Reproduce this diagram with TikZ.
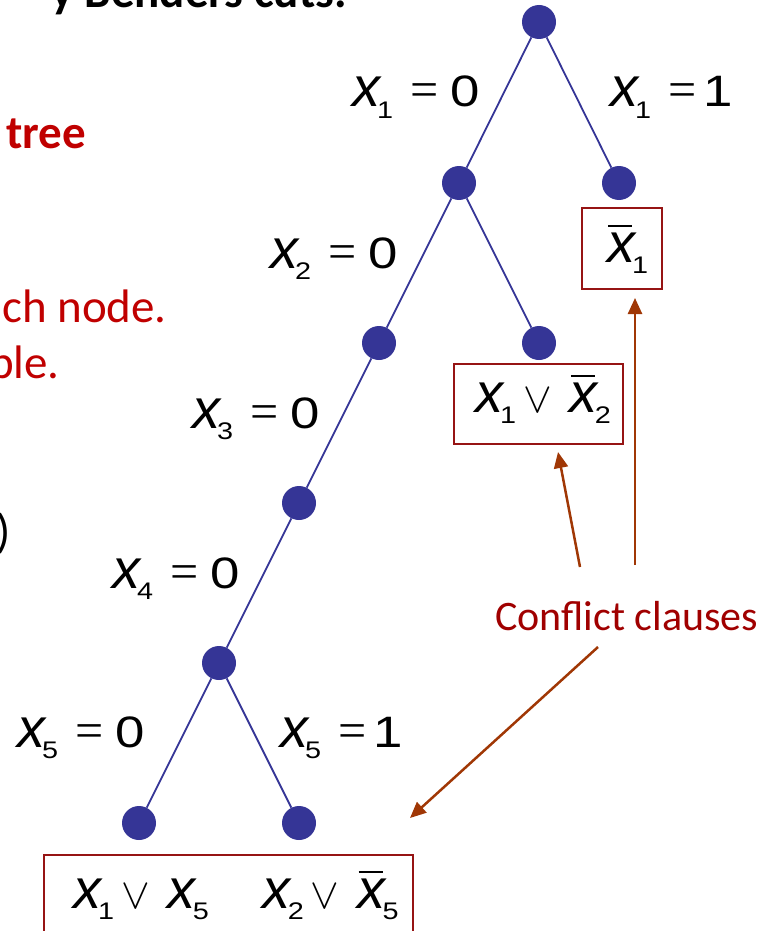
\documentclass[tikz,border=0pt]{standalone}
\usepackage{fontspec}
\setmainfont{Liberation Sans}
\newfontfamily\carlito{Carlito}
\newfontfamily\lserif{Liberation Serif}
\usepackage{graphicx}
\usetikzlibrary{arrows.meta}
\definecolor{nodeblue}{RGB}{53,53,150}
\definecolor{boxred}{RGB}{150,20,20}
\definecolor{arrowbrown}{RGB}{160,55,5}
\definecolor{ccred}{RGB}{160,0,0}
\definecolor{slidered}{RGB}{192,0,0}
\newcommand\XF{\fontsize{56}{56}\selectfont\itshape}
\newcommand\SB[1]{{\fontsize{24}{24}\selectfont\scalebox{1.2}[1]{#1}}}
\newcommand\VX[1]{{\XF x}\kern-3pt\raisebox{-11pt}{\SB{#1}}}
\newcommand\VXB[1]{\rlap{\kern1pt\rule[35pt]{24pt}{2pt}}\VX{#1}}
\newcommand\EQ{{\lserif\fontsize{50}{50}\selectfont=}}
\newcommand\DG[1]{{\fontsize{44}{44}\selectfont\scalebox{1.2}[1]{#1}}}
\newcommand\LAB[2]{\VX{#1}\hspace{17pt}\EQ\hspace{12pt}\DG{#2}}
\newcommand\LABI[1]{\VX{#1}\hspace{17pt}\EQ\hspace{7pt}\DG{1}}
\newcommand\VOR{\scalebox{4.3}{$\vee$}}
\newcommand\CLS[2]{\VX{#1}\hspace{7pt}\VOR\hspace{18pt}#2}
\begin{document}
\begin{tikzpicture}[x=1pt,y=-1pt,
  vtx/.style={circle,fill=nodeblue,minimum size=34pt,inner sep=0pt},
  edge/.style={draw=nodeblue,line width=1.8pt},
  lab/.style={anchor=base west,inner sep=0pt},
  cbox/.style={draw=boxred,line width=2pt,inner sep=0pt},
  carrow/.style={draw=arrowbrown,line width=2.5pt,-{Triangle[length=16pt,width=14pt]}},
  slide/.style={inner sep=0pt,anchor=base east,font=\carlito\fontsize{47}{47}\selectfont}]
\useasboundingbox (0,0) rectangle (772,931);
% slide text fragments
\node[slide,font=\carlito\bfseries\fontsize{47}{47}\selectfont] (s0) at (347,8) {y Benders cuts.};
\node[slide,text=slidered,font=\carlito\bfseries\fontsize{47}{47}\selectfont] (s1) at (86,148) {tree};
\node[slide,text=slidered] (s2) at (167,322) {ch node.};
\node[slide,text=slidered] (s3) at (60,378) {ble.};
\node[slide] (s4) at (11,547) {)};
% tree nodes
\node[vtx] (n0) at (539,22) {};
\node[vtx] (n1) at (459,183) {};
\node[vtx] (n1r) at (619,183) {};
\node[vtx] (n2) at (379,343) {};
\node[vtx] (n2r) at (539,343) {};
\node[vtx] (n3) at (299,503) {};
\node[vtx] (n4) at (219,663) {};
\node[vtx] (n5l) at (139,823) {};
\node[vtx] (n5r) at (299,823) {};
\draw[edge] (n0) -- (n1);
\draw[edge] (n0) -- (n1r);
\draw[edge] (n1) -- (n2);
\draw[edge] (n1) -- (n2r);
\draw[edge] (n2) -- (n3);
\draw[edge] (n3) -- (n4);
\draw[edge] (n4) -- (n5l);
\draw[edge] (n4) -- (n5r);
% branch labels
\node[lab] (l1) at (352,107) {\LAB{1}{0}};
\node[lab] (l1r) at (610,107) {\LABI{1}};
\node[lab] (l2) at (270,268) {\LAB{2}{0}};
\node[lab] (l3) at (192,428) {\LAB{3}{0}};
\node[lab] (l4) at (112,588) {\LAB{4}{0}};
\node[lab] (l5) at (17,747) {\LAB{5}{0}};
\node[lab] (l5r) at (280,747) {\LABI{5}};
% clause boxes
\node[cbox,minimum width=80pt,minimum height=81pt] (c1) at (622,248.5) {};
\node[cbox,minimum width=169pt,minimum height=80pt] (c2) at (538.5,404) {};
\node[cbox,minimum width=369pt,minimum height=100pt] (c3) at (228.5,905) {};
\node[lab] (t1) at (607,262) {\VXB{1}};
\node[lab] (t2) at (475,412) {\CLS{1}{\VXB{2}}};
\node[lab] (t3) at (73,908) {\CLS{1}{\VX{5}}\hspace{54pt}\CLS{2}{\VXB{5}}};
% conflict clauses label and arrows
\node[lab,text=ccred,font=\carlito\fontsize{42}{42}\selectfont] (cc) at (495,630) {Conflict clauses};
\coordinate (a1s) at (580,567);
\coordinate (a1e) at (558,452);
\coordinate (a2s) at (635,565);
\coordinate (a2e) at (635,298);
\coordinate (a3s) at (598,647);
\coordinate (a3e) at (410,818);
\draw[carrow] (a1s) -- (a1e);
\draw[carrow] (a2s) -- (a2e);
\draw[carrow] (a3s) -- (a3e);
\end{tikzpicture}
\end{document}
